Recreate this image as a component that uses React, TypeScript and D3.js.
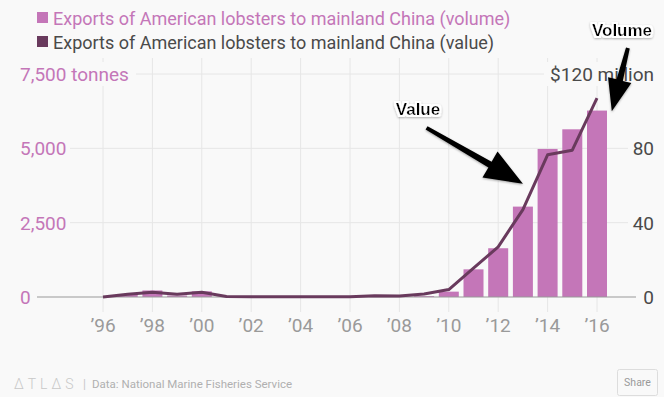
import React from 'react';
import * as d3 from 'd3';

// Lobster exports to mainland China, 1996-2016
const years = d3.range(1996, 2017);
const volumeTonnes = [0, 70, 220, 50, 190, 10, 3, 3, 3, 3, 3, 5, 5, 30, 180, 930, 1640, 3040, 4980, 5640, 6270];
const valueMillions = [0, 1.5, 2.5, 1.5, 2.5, 0.3, 0.2, 0.2, 0.2, 0.2, 0.2, 0.7, 0.5, 1.6, 4, 15.5, 27, 47, 76.5, 79, 107];
const leftTicks = [0, 2500, 5000, 7500];
const rightTicks = [0, 40, 80, 120];
const xTickYears = d3.range(1996, 2017, 2);

const W = 664;
const H = 397;
const BG = '#f9f9f9';
const BAR = '#c476b8';
const LINE = '#693a5d';
const FONT = 'Roboto, "Noto Sans", sans-serif';
const BOLD = '"Liberation Sans", Arial, sans-serif';

const x = d3.scaleLinear().domain([1996, 2016]).range([103, 597]);
const yL = d3.scaleLinear().domain([0, 7500]).range([297, 74]);
const yR = d3.scaleLinear().domain([0, 120]).range([297, 74]);

const fmt = d3.format(',');

const Arrow = ({ x1, y1, x2, y2, head = 38, half = 15, shaft = 3.2 }) => {
  const dx = x2 - x1;
  const dy = y2 - y1;
  const len = Math.hypot(dx, dy);
  const ux = dx / len, uy = dy / len;
  const px = -uy, py = ux;
  const bx = x2 - ux * head, by = y2 - uy * head;
  const pts = [
    [x1 + px * shaft * 0.6, y1 + py * shaft * 0.6],
    [bx + px * shaft, by + py * shaft],
    [bx + px * half, by + py * half],
    [x2, y2],
    [bx - px * half, by - py * half],
    [bx - px * shaft, by - py * shaft],
    [x1 - px * shaft * 0.6, y1 - py * shaft * 0.6],
  ];
  return <path d={'M' + pts.map(p => p.join(',')).join('L') + 'Z'} fill="#000" filter="url(#shadow)" />;
};

export default function App() {
  const line = d3.line<number>()
    .x((_, i) => x(years[i]))
    .y(d => yR(d));

  return (
    <svg width={W} height={H} style={{ position: 'absolute', left: 0, top: 0, background: BG }}>
      <defs>
        <filter id="shadow" x="-20%" y="-20%" width="140%" height="140%">
          <feDropShadow dx="0" dy="1" stdDeviation="1.2" floodColor="#000" floodOpacity="0.35" />
        </filter>
        <filter id="halo" x="-20%" y="-40%" width="140%" height="180%">
          <feMorphology in="SourceAlpha" operator="dilate" radius="1.5" result="d" />
          <feFlood floodColor="#fff" />
          <feComposite in2="d" operator="in" result="w" />
          <feDropShadow in="w" dx="0" dy="1" stdDeviation="1" floodColor="#000" floodOpacity="0.3" result="ws" />
          <feMerge>
            <feMergeNode in="ws" />
            <feMergeNode in="SourceGraphic" />
          </feMerge>
        </filter>
      </defs>
      <rect width={W} height={H} fill={BG} />

      {/* legend */}
      <rect x={37} y={12} width={11} height={11} fill={BAR} />
      <text x={53} y={25} fontFamily={FONT} fontSize={18} fill={BAR}>Exports of American lobsters to mainland China (volume)</text>
      <rect x={37} y={36} width={11} height={11} fill={LINE} />
      <text x={53} y={49} fontFamily={FONT} fontSize={18} fill="#4a4a4a">Exports of American lobsters to mainland China (value)</text>

      {/* grid */}
      {xTickYears.map(yr => (
        <line key={yr} x1={x(yr)} x2={x(yr)} y1={58} y2={312} stroke="#e6e6e6" strokeWidth={1} />
      ))}
      {leftTicks.filter(t => t > 0).map(t => (
        <line key={t} x1={60} x2={636} y1={yL(t)} y2={yL(t)} stroke="#e6e6e6" strokeWidth={1} />
      ))}

      {/* bars */}
      {volumeTonnes.map((v, i) => (
        <rect key={years[i]} x={x(years[i]) - 10} width={20} y={yL(v)} height={yL(0) - yL(v)} fill={BAR} />
      ))}

      {/* baseline */}
      <line x1={37} x2={636} y1={yL(0)} y2={yL(0)} stroke="#999" strokeWidth={1} />

      {/* value line */}
      <path d={line(valueMillions) || ''} fill="none" stroke={LINE} strokeWidth={3} strokeLinejoin="round" />

      {/* left axis */}
      {leftTicks.map(t => {
        const label = t === 7500 ? `${fmt(t)} tonnes` : fmt(t);
        return (
          <g key={t}>
            <rect x={14} y={yL(t) - 12} width={t === 7500 ? 122 : t === 0 ? 20 : 56} height={24} fill={BG} />
            <text x={20} y={yL(t) + 7} fontFamily={FONT} fontSize={19} fill={BAR}>{label}</text>
          </g>
        );
      })}

      {/* right axis */}
      {rightTicks.map(t => {
        const label = t === 120 ? `$${t} million` : `${t}`;
        return (
          <g key={t}>
            <rect x={t === 120 ? 544 : t === 0 ? 641 : 628} y={yR(t) - 12} width={t === 120 ? 120 : 30} height={24} fill={BG} />
            <text x={654} y={yR(t) + 7} textAnchor="end" fontFamily={FONT} fontSize={19} fill="#4a4a4a">{label}</text>
          </g>
        );
      })}

      {/* x axis labels */}
      {xTickYears.map(yr => (
        <text key={yr} x={x(yr)} y={332} textAnchor="middle" fontFamily={FONT} fontSize={19} fill="#9a9a9a">
          {'\u2019' + String(yr).slice(2)}
        </text>
      ))}

      {/* annotations */}
      <Arrow x1={x(2009.1)} y1={yR(91)} x2={x(2013)} y2={yR(61)} />
      <text x={418} y={115} textAnchor="middle" fontFamily={BOLD} fontWeight={700} fontSize={17} fill="#000" filter="url(#halo)">Value</text>
      <Arrow x1={x(2017.25)} y1={yR(134)} x2={x(2016.6)} y2={yR(100)} head={32} half={12} />
      <text x={622} y={36} textAnchor="middle" fontFamily={BOLD} fontWeight={700} fontSize={17} fill="#000" filter="url(#halo)">Volume</text>

      {/* footer */}
      <text x={14} y={389} fontFamily={FONT} fontSize={14} fontWeight={300} letterSpacing={4} fill="#c8c8c8">ΔTLΔS</text>
      <text x={83} y={388} fontFamily={FONT} fontSize={12} fill="#c8c8c8">|</text>
      <text x={92} y={388} fontFamily={FONT} fontSize={11.5} fill="#b0b0b0">Data:  National Marine Fisheries Service</text>
      <rect x={617.5} y={369.5} width={40} height={26} rx={2} fill={BG} stroke="#ddd" />
      <text x={637.5} y={386} textAnchor="middle" fontFamily={FONT} fontSize={10.5} fill="#999">Share</text>
    </svg>
  );
}
